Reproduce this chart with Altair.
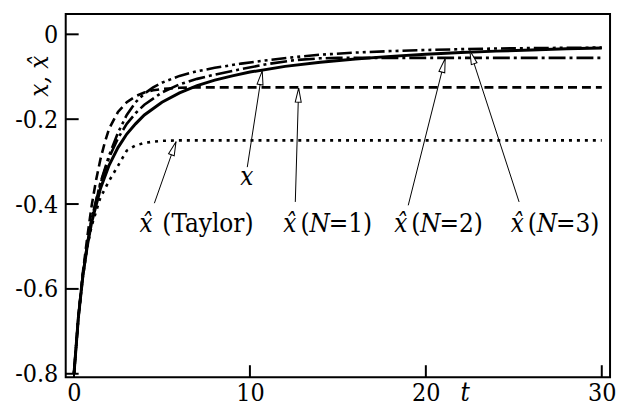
import altair as alt
import pandas as pd

# ---------------- data ----------------
t_exact = [0, 0.25, 0.5, 0.75, 1, 1.5, 2, 2.5, 3, 3.5, 4, 5, 6, 7, 8, 9, 10, 12, 14, 16, 18, 20, 22, 24, 26, 28, 30]
x_exact = [-0.8, -0.667, -0.571, -0.5, -0.444, -0.364, -0.308, -0.267, -0.235, -0.211, -0.19, -0.16, -0.138,
           -0.121, -0.108, -0.098, -0.089, -0.0755, -0.0656, -0.058, -0.052, -0.047, -0.043, -0.0396, -0.0367,
           -0.0342, -0.032]

t_taylor = [0, 0.25, 0.5, 0.75, 1, 1.5, 2, 2.5, 3, 3.5, 4, 4.5, 5, 6, 30]
x_taylor = [-0.8, -0.667, -0.573, -0.503, -0.452, -0.385, -0.345, -0.31, -0.274, -0.262, -0.256, -0.253, -0.251,
            -0.25, -0.25]

t_n1 = [0, 0.25, 0.5, 0.75, 1, 1.25, 1.5, 1.75, 2, 2.5, 3, 3.5, 4, 4.5, 5, 6, 7, 30]
x_n1 = [-0.8, -0.665, -0.563, -0.48, -0.405, -0.345, -0.295, -0.255, -0.222, -0.183, -0.16, -0.146, -0.137,
        -0.132, -0.129, -0.126, -0.125, -0.125]

t_n2 = [0, 0.25, 0.5, 0.75, 1, 1.5, 2, 2.5, 3, 3.5, 4, 5, 6, 7, 8, 9.5, 11, 12.5, 14, 15, 30]
x_n2 = [-0.8, -0.667, -0.568, -0.494, -0.436, -0.352, -0.29, -0.245, -0.211, -0.186, -0.166, -0.137, -0.118,
        -0.105, -0.095, -0.082, -0.07, -0.061, -0.0565, -0.0556, -0.0556]

t_n3 = [0, 0.25, 0.5, 0.75, 1, 1.5, 2, 2.5, 3, 3.5, 4, 4.5, 5, 6, 7, 8, 9.5, 11, 12.5, 14, 16, 18, 20, 22, 24,
        26, 28, 30]
x_n3 = [-0.8, -0.667, -0.568, -0.494, -0.436, -0.35, -0.285, -0.232, -0.19, -0.16, -0.14, -0.125, -0.114, -0.098,
        -0.087, -0.079, -0.069, -0.061, -0.054, -0.048, -0.043, -0.0395, -0.037, -0.035, -0.0335, -0.0325,
        -0.0318, -0.0313]

x_ticks = [0, 10, 20, 30]
y_ticks = [-0.8, -0.6, -0.4, -0.2, 0]

arrow_t_tail = [4.57, 9.85, 12.58, 19.0, 25.3]
arrow_y_tail = [-0.398, -0.313, -0.395, -0.403, -0.395]
arrow_t_tip = [5.8, 10.7, 12.77, 21.1, 22.5]
arrow_y_tip = [-0.253, -0.086, -0.127, -0.057, -0.038]

lab_text = ["x\u0302", "(Taylor)", "x",
            "x\u0302", "(", "N", "=1)",
            "x\u0302", "(", "N", "=2)",
            "x\u0302", "(", "N", "=3)"]
lab_t = [3.72, 5.02, 9.45,
         11.9, 12.87, 13.38, 14.48,
         18.2, 19.17, 19.68, 20.78,
         24.82, 25.79, 26.30, 27.40]
lab_y = [-0.466, -0.466, -0.356,
         -0.466, -0.466, -0.466, -0.466,
         -0.466, -0.466, -0.466, -0.466,
         -0.466, -0.466, -0.466, -0.466]
lab_italic = [True, False, True,
              True, False, True, False,
              True, False, True, False,
              True, False, True, False]

# ---------------- styling ----------------
W, H = 547, 365
FONT = "DejaVu Serif Condensed"
arrow_angle = [19.5, 9.0, 1.7, 13.9, 341.8]
ARROW_PATH = "M0,0L0.86,4L-0.86,4Z"

xs = alt.Scale(domain=[-0.47, 30.47], nice=False, zero=False)
ys = alt.Scale(domain=[-0.808, 0.048], nice=False, zero=False)

x_axis = alt.Axis(values=x_ticks, format="d", labelFont=FONT, labelFontSize=25, labelColor="black",
                  domain=False, ticks=False, grid=False, labelPadding=3, labelFlush=False,
                  title="t", titleFont=FONT, titleFontSize=26, titleFontStyle="italic",
                  titleFontWeight="normal", titleColor="black", titleX=401, titleY=23,
                  titleAlign="center", titleBaseline="alphabetic")
y_axis = alt.Axis(values=y_ticks, labelFont=FONT, labelFontSize=25, labelColor="black",
                  labelExpr="datum.value == 0 ? '0' : replace(format(datum.value, '.1f'), '\u2212', '-')",
                  domain=False, ticks=False, grid=False, labelPadding=8, labelFlush=False,
                  title="x, x\u0302", titleFont=FONT, titleFontSize=26, titleFontStyle="italic",
                  titleFontWeight="normal", titleColor="black", titleAngle=270, titleX=-26, titleY=62,
                  titleAlign="center", titleBaseline="middle")

X = alt.X("t:Q", scale=xs, axis=x_axis)
Y = alt.Y("v:Q", scale=ys, axis=y_axis)


def curve(t, v, dash, width):
    df = pd.DataFrame({"t": t, "v": v})
    kw = dict(color="black", strokeWidth=width, clip=True)
    if dash:
        kw["strokeDash"] = dash
    return alt.Chart(df).mark_line(**kw).encode(x=X, y=Y)


layers = [
    curve(t_taylor, x_taylor, [3, 5], 2.6),
    curve(t_n1, x_n1, [9, 5], 2.6),
    curve(t_n2, x_n2, [17, 4, 3, 4], 2.6),
    curve(t_n3, x_n3, [15, 4, 3, 4, 3, 4], 2.6),
    curve(t_exact, x_exact, None, 3),
]

xt = alt.Chart(pd.DataFrame({"t": x_ticks})).mark_rule(color="black", strokeWidth=2).encode(
    x=X, y=alt.value(H), y2=alt.value(H - 12))
yt = alt.Chart(pd.DataFrame({"v": y_ticks})).mark_rule(color="black", strokeWidth=2).encode(
    y=Y, x=alt.value(0), x2=alt.value(13))

arrows = pd.DataFrame({"t": arrow_t_tail, "v": arrow_y_tail, "t2": arrow_t_tip, "v2": arrow_y_tip,
                       "ang": arrow_angle})
arrow_lines = alt.Chart(arrows).mark_rule(color="black", strokeWidth=1).encode(
    x=X, y=Y, x2="t2:Q", y2="v2:Q")
arrow_heads = alt.Chart(arrows).mark_point(shape=ARROW_PATH, size=49, filled=True, fill="white",
                                           stroke="black", strokeWidth=1, opacity=1).encode(
    x=alt.X("t2:Q", scale=xs, axis=x_axis), y=alt.Y("v2:Q", scale=ys, axis=y_axis),
    angle=alt.Angle("ang:Q", scale=None))

labels = pd.DataFrame({"t": lab_t, "v": lab_y, "txt": lab_text, "it": lab_italic})
lab_it = alt.Chart(labels).transform_filter("datum.it").mark_text(
    font=FONT, fontSize=26, fontStyle="italic", align="left", baseline="alphabetic", color="black").encode(
    x=X, y=Y, text="txt:N")
lab_rm = alt.Chart(labels).transform_filter("!datum.it").mark_text(
    font=FONT, fontSize=26, align="left", baseline="alphabetic", color="black").encode(
    x=X, y=Y, text="txt:N")

chart = alt.layer(*layers, xt, yt, arrow_lines, arrow_heads, lab_it, lab_rm).properties(
    width=W, height=H,
    background="white",
    autosize=alt.AutoSizeParams(type="none"),
    padding={"left": 58, "top": 5, "right": 8, "bottom": 29},
).configure_view(stroke="black", strokeWidth=2)

chart.save("out.html", embed_options={"renderer": "svg", "actions": False})
